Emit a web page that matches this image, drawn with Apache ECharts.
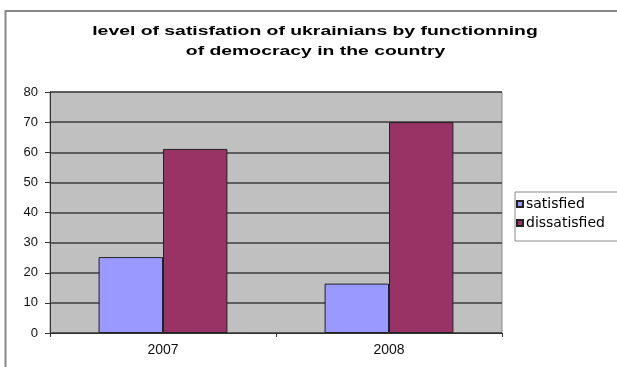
<!DOCTYPE html>
<html>
<head>
<meta charset="utf-8">
<script src="https://cdn.jsdelivr.net/npm/echarts@6/dist/echarts.min.js"></script>
<style>
  html, body { margin: 0; padding: 0; background: #ffffff; }
  #chart { width: 617px; height: 367px; }
</style>
</head>
<body>
<div id="chart"></div>
<script>
// ---- data ----
const titleLines = ['level of satisfation of ukrainians by functionning', 'of democracy in the country'];
const categories = ['2007', '2008'];
const seriesNames = ['satisfied', 'dissatisfied'];
const satisfied = [25.2, 16.4];
const dissatisfied = [61.1, 70];
const yMin = 0, yMax = 80, yStep = 10;

const chart = echarts.init(document.getElementById('chart'), null, { renderer: 'canvas' });

const option = {
  backgroundColor: '#ffffff',
  animation: false,
  graphic: [
    {
      type: 'polyline',
      shape: { points: [[5.5, 367], [5.5, 11], [617, 11]] },
      style: { stroke: '#888888', lineWidth: 2, fill: null }
    },
    {
      type: 'text', x: 315, y: 31, scaleX: 1.49,
      style: { text: titleLines[0], font: 'bold 13px "Liberation Sans", Arial, sans-serif',
               fill: '#000', align: 'center', verticalAlign: 'middle', textAlign: 'center', textVerticalAlign: 'middle' }
    },
    {
      type: 'text', x: 315.5, y: 51.5, scaleX: 1.49,
      style: { text: titleLines[1], font: 'bold 13px "Liberation Sans", Arial, sans-serif',
               fill: '#000', align: 'center', verticalAlign: 'middle', textAlign: 'center', textVerticalAlign: 'middle' }
    }
  ],
  legend: {
    orient: 'vertical',
    left: 515, top: 192,
    padding: [5, 40, 11, 1],
    itemWidth: 6, itemHeight: 6,
    itemGap: 5,
    icon: 'rect',
    borderColor: '#8a8a8a', borderWidth: 1,
    backgroundColor: '#ffffff',
    textStyle: { fontFamily: '"DejaVu Sans", sans-serif', fontSize: 14, color: '#000', padding: [0, 0, 0, -2] },
    data: seriesNames
  },
  grid: {
    left: 50, top: 92, right: 115, bottom: 34,
    show: true, backgroundColor: '#c0c0c0', borderColor: '#8c8c8c', borderWidth: 1
  },
  xAxis: {
    type: 'category',
    data: categories,
    axisLine: { lineStyle: { color: '#333', width: 1 } },
    axisTick: { show: true, length: 4, lineStyle: { color: '#333' } },
    axisLabel: { fontFamily: '"Liberation Sans", Arial, sans-serif', fontSize: 14, color: '#111', margin: 10 }
  },
  yAxis: {
    type: 'value',
    min: yMin, max: yMax, interval: yStep,
    axisLine: { show: true, lineStyle: { color: '#333', width: 1 } },
    axisTick: { show: true, length: 5, lineStyle: { color: '#333' } },
    axisLabel: { fontFamily: '"Liberation Sans", Arial, sans-serif', fontSize: 13, color: '#111', margin: 12 },
    splitLine: { show: true, lineStyle: { color: '#3c3c3c', width: 1.5 } }
  },
  series: [
    {
      name: seriesNames[0], type: 'bar', data: satisfied,
      barGap: '0%', barCategoryGap: '43%',
      itemStyle: { color: '#9999ff', borderColor: '#222', borderWidth: 1 }
    },
    {
      name: seriesNames[1], type: 'bar', data: dissatisfied,
      barGap: '0%', barCategoryGap: '43%',
      itemStyle: { color: '#993366', borderColor: '#222', borderWidth: 1 }
    }
  ]
};
chart.setOption(option);
</script>
</body>
</html>
